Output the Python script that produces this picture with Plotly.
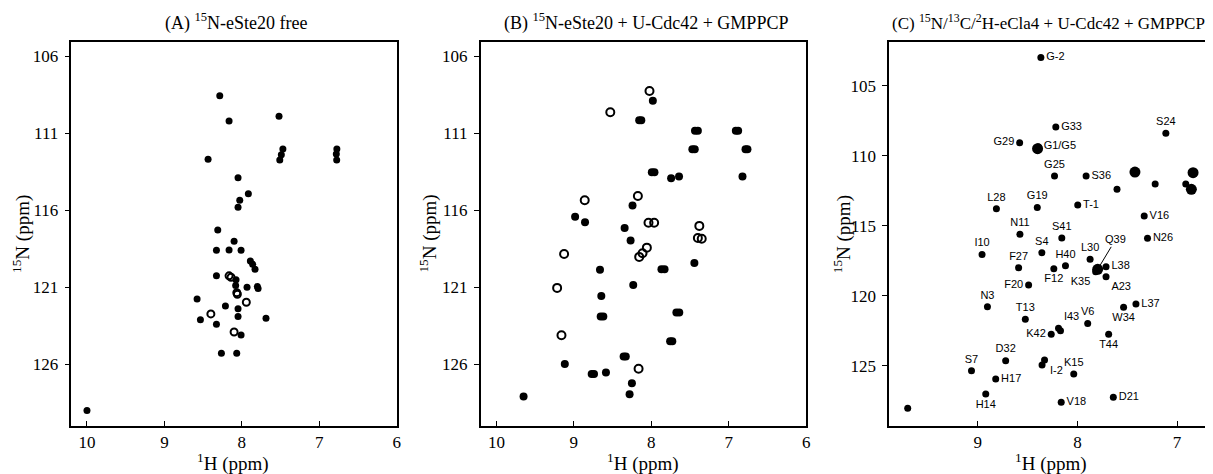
import plotly.graph_objects as go

# ---------------- data (ppm) ----------------
# Panel A: 15N-eSte20 free
a_h = [8.285, 8.165, 7.52, 8.436, 7.47, 7.49, 7.51, 6.773, 6.78, 6.775, 8.049, 7.916,
       8.027, 8.049, 8.311, 8.10, 8.328, 8.165, 8.010, 7.89, 7.86, 7.83, 8.328, 8.075,
       8.08, 7.933, 7.79, 7.80, 8.578, 8.212, 8.049, 8.049, 8.535, 7.688, 8.328, 8.01,
       8.264, 8.066, 10.0]
a_n = [108.57, 110.21, 109.91, 112.70, 112.03, 112.40, 112.74, 112.03, 112.35, 112.74,
       113.89, 114.93, 115.36, 115.81, 117.28, 118.02, 118.60, 118.58, 118.60, 119.29,
       119.51, 119.83, 120.26, 120.52, 120.89, 121.0, 121.08, 120.95, 121.76, 122.21,
       122.40, 122.90, 123.10, 123.01, 123.40, 124.09, 125.28, 125.28, 128.99]
a_ring_h = [8.165, 8.14, 8.058, 8.065, 7.942, 8.40, 8.10]
a_ring_n = [120.26, 120.35, 121.45, 121.35, 121.97, 122.73, 123.90]

# Panel B: 15N-eSte20 + U-Cdc42 + GMPPCP
b_h = [7.981, 8.157, 8.13, 7.437, 7.40, 6.910, 6.88, 7.471, 7.44, 6.785, 6.76, 7.994,
       7.96, 7.745, 7.643, 6.824, 8.243, 8.984, 8.856, 8.345, 8.268, 7.870, 7.83, 7.445,
       8.663, 8.234, 8.646, 8.654, 8.62, 7.677, 7.64, 7.758, 7.73, 9.117, 8.358, 8.33,
       8.770, 8.74, 8.586, 8.251, 8.281, 9.649]
b_n = [108.90, 110.17, 110.17, 110.84, 110.84, 110.84, 110.84, 112.05, 112.05, 112.05,
       112.05, 113.54, 113.54, 113.93, 113.82, 113.82, 115.70, 116.42, 116.78, 117.15,
       117.97, 119.83, 119.83, 119.42, 119.87, 120.85, 121.56, 122.90, 122.90, 122.64,
       122.64, 124.50, 124.50, 125.97, 125.49, 125.49, 126.62, 126.62, 126.53, 127.22,
       127.94, 128.09]
b_ring_h = [8.024, 8.530, 8.174, 8.86, 7.381, 7.40, 7.35, 9.126, 9.216, 9.16, 8.165,
            8.037, 7.964, 8.058, 8.114, 8.157]
b_ring_n = [108.27, 109.65, 115.08, 115.36, 117.02, 117.8, 117.85, 118.84, 121.04,
            124.11, 126.29, 116.81, 116.81, 118.43, 118.79, 119.03]

# Panel C: 15N/13C/2H-eCla4 + U-Cdc42 + GMPPCP (assigned peaks)
c_labels = ["G-2", "G33", "G29", "G1/G5", "G25", "S36", "S24", "L28", "G19", "T-1",
            "V16", "N11", "S41", "N26", "I10", "S4", "L30", "F27", "H40", "F12",
            "L38", "K35", "A23", "F20", "N3", "L37", "W34", "T13", "V6", "I43",
            "K42", "T44", "D32", "I-2", "S7", "K15", "H17", "H14", "V18", "D21"]
c_h = [8.367, 8.217, 8.58, 8.393, 8.23, 7.913, 7.113, 8.813, 8.403, 7.997,
       7.33, 8.577, 8.157, 7.297, 8.957, 8.357, 7.873, 8.59, 8.12, 8.237,
       7.713, 7.817, 7.713, 8.49, 8.903, 7.413, 7.537, 8.523, 7.897, 8.19,
       8.263, 7.687, 8.72, 8.33, 9.063, 8.037, 8.82, 8.92, 8.163, 7.64]
c_n = [102.98, 107.95, 109.07, 109.36, 111.45, 111.45, 108.40, 113.79, 113.71, 113.52,
       114.31, 115.62, 115.88, 115.90, 117.05, 116.93, 117.40, 118.0, 117.86, 118.07,
       117.93, 118.29, 118.64, 119.24, 120.79, 120.60, 120.83, 121.69, 121.98, 122.33,
       122.76, 122.76, 124.64, 124.60, 125.36, 125.60, 125.95, 127.02, 127.62, 127.26]
# unassigned peaks in panel C
c_un_h = [7.603, 7.22, 6.913, 9.703, 8.355, 8.17]
c_un_n = [112.40, 112.02, 112.02, 128.05, 124.95, 122.50]
c_big_h = [7.423, 6.84, 6.857, 7.797, 8.40]
c_big_n = [111.17, 111.21, 112.40, 118.12, 109.5]
q39_h, q39_n = 7.797, 118.12

ab_xticks = [10, 9, 8, 7, 6]
ab_yticks = [106, 111, 116, 121, 126]
c_xticks = [9, 8, 7]
c_yticks = [105, 110, 115, 120, 125]

titles = ["(A) <sup>15</sup>N-eSte20 free",
          "(B) <sup>15</sup>N-eSte20 + U-Cdc42 + GMPPCP",
          "(C) <sup>15</sup>N/<sup>13</sup>C/<sup>2</sup>H-eCla4 + U-Cdc42 + GMPPCP"]

# ---------------- style ----------------
OFF = 8                      # page offset of the plot div
W, H = 1213 - OFF, 474 - OFF
SERIF = "Liberation Serif, Times New Roman, serif"
SANS = "Liberation Sans Narrow, Arial Narrow, Liberation Sans, Arial, sans-serif"


def px_x(p):
    return (p - OFF) / W


def px_y(p):
    return 1 - (p - OFF) / H


doms = [(71.7, 398.0), (482.3, 809.0), (892.0, 1213.0)]
ydom = [px_y(426), px_y(41.7)]

label_pos = {
    "G-2": "middle right", "G33": "middle right", "G29": "middle left",
    "G1/G5": "middle right", "G25": "top center", "S36": "middle right",
    "S24": "top center", "L28": "top center", "G19": "top center",
    "T-1": "middle right", "V16": "middle right", "N11": "top center",
    "S41": "top center", "N26": "middle right", "I10": "top center",
    "S4": "top center", "L30": "top center", "F27": "top center",
    "H40": "top center", "F12": "bottom center", "L38": "middle right",
    "K35": "bottom left", "A23": "bottom right", "F20": "middle left",
    "N3": "top center", "L37": "middle right", "W34": "bottom center",
    "T13": "top center", "V6": "top center", "I43": "top right",
    "K42": "middle left", "T44": "bottom center", "D32": "top center",
    "I-2": "bottom right", "S7": "top center", "K15": "top center",
    "H17": "middle right", "H14": "bottom center", "V18": "middle right",
    "D21": "middle right",
}

fig = go.Figure()


def filled(x, y, xa, ya, size=8):
    fig.add_trace(go.Scatter(x=x, y=y, mode="markers", xaxis=xa, yaxis=ya,
                             marker=dict(color="black", size=size, symbol="circle",
                                         line=dict(width=0)),
                             showlegend=False, hoverinfo="x+y"))


def ring(x, y, xa, ya, size=8):
    fig.add_trace(go.Scatter(x=x, y=y, mode="markers", xaxis=xa, yaxis=ya,
                             marker=dict(color="black", size=size, symbol="circle-open",
                                         line=dict(width=2, color="black")),
                             showlegend=False, hoverinfo="x+y"))


filled(a_h, a_n, "x", "y", 7)
ring(a_ring_h, a_ring_n, "x", "y", 7)
filled(b_h, b_n, "x2", "y2", 8)
ring(b_ring_h, b_ring_n, "x2", "y2", 8)
filled(c_un_h, c_un_n, "x3", "y3", 7)
filled(c_big_h, c_big_n, "x3", "y3", 11)
fig.add_trace(go.Scatter(x=c_h, y=c_n, mode="markers+text", xaxis="x3", yaxis="y3",
                         text=c_labels,
                         textposition=[label_pos[l] for l in c_labels],
                         textfont=dict(family=SANS, size=11, color="black"),
                         marker=dict(color="black", size=7, symbol="circle"),
                         showlegend=False, hoverinfo="text"))

axis_common = dict(showline=True, linecolor="black", linewidth=1.5, showgrid=False,
                   zeroline=False, tickfont=dict(family=SERIF, size=17, color="black"),
                   tickcolor="black", ticklen=5, tickwidth=1.2)

layout = dict(width=W, height=H, margin=dict(l=0, r=0, t=0, b=0),
              paper_bgcolor="white", plot_bgcolor="white", showlegend=False)

xranges = [[10.2, 6.0], [10.202, 6.0], [9.89, 6.68]]
yranges = [[130.0, 105.07], [130.0, 105.07], [129.31, 101.857]]
xticks = [ab_xticks, ab_xticks, c_xticks]
yticks = [ab_yticks, ab_yticks, c_yticks]
for i in range(3):
    sfx = "" if i == 0 else str(i + 1)
    layout["xaxis" + sfx] = dict(axis_common, domain=[px_x(doms[i][0]), min(1.0, px_x(doms[i][1]))],
                                 range=xranges[i], tickvals=xticks[i], ticks="inside",
                                 mirror=True, anchor="y" + sfx)
    layout["yaxis" + sfx] = dict(axis_common, domain=ydom, range=yranges[i],
                                 tickvals=yticks[i], ticks="outside",
                                 ticklabelstandoff=3,
                                 mirror=(i < 2), anchor="x" + sfx)

annotations = []
title_x = [237, 648, 1211]
title_anchor = ["center", "center", "right"]
title_size = [18, 18, 17]
xtitle_x = [234, 645, 1054]
ytitle_x = [21, 429, 845]
for i in range(3):
    annotations.append(dict(text=titles[i], x=px_x(title_x[i]), y=px_y(22), xref="paper",
                            yref="paper", showarrow=False, xanchor=title_anchor[i],
                            yanchor="middle",
                            font=dict(family=SERIF, size=title_size[i], color="black")))
    annotations.append(dict(text="<sup>1</sup>H (ppm)", x=px_x(xtitle_x[i]), y=px_y(462),
                            xref="paper", yref="paper", showarrow=False,
                            xanchor="center", yanchor="middle",
                            font=dict(family=SERIF, size=19, color="black")))
    annotations.append(dict(text="<sup>15</sup>N (ppm)", x=px_x(ytitle_x[i]), y=px_y(234),
                            xref="paper", yref="paper", showarrow=False, textangle=-90,
                            xanchor="center", yanchor="middle",
                            font=dict(family=SERIF, size=19, color="black")))
annotations.append(dict(text="Q39", x=q39_h, y=q39_n, xref="x3", yref="y3",
                        showarrow=True, arrowhead=0, arrowwidth=1, arrowcolor="black",
                        ax=18, ay=-30, font=dict(family=SANS, size=11, color="black"),
                        standoff=4))
layout["annotations"] = annotations
fig.update_layout(**layout)

fig.write_html("out.html")
